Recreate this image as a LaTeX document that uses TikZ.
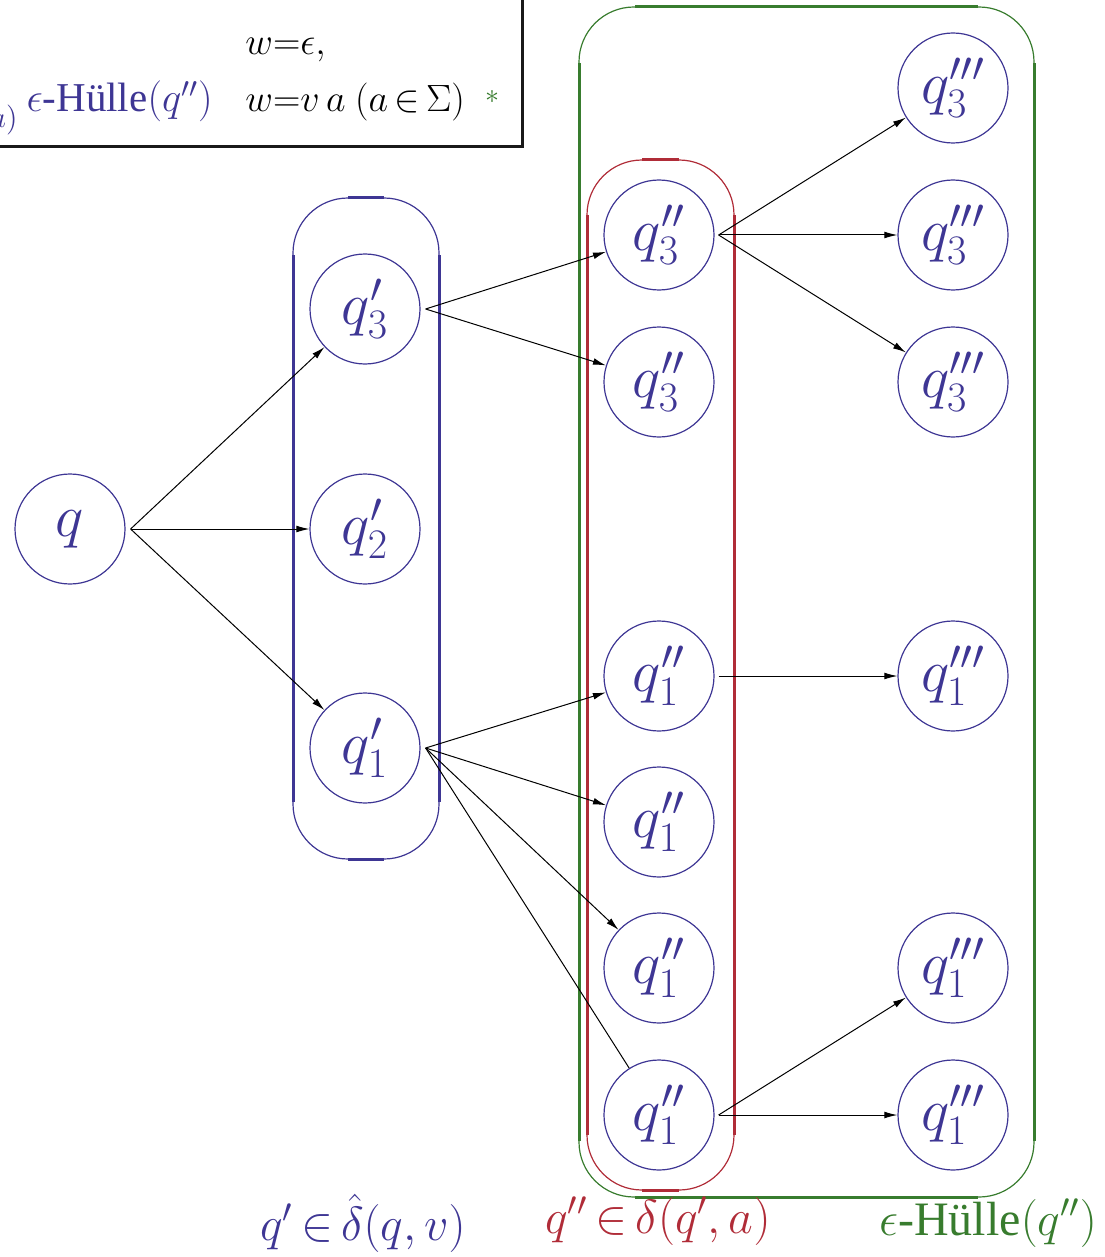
\RequirePackage{fix-cm}
\documentclass[tikz,border=0pt]{standalone}
\usepackage{fontspec}
\setmainfont{Liberation Serif}
\usepackage{amsmath}
\usetikzlibrary{arrows.meta}
\definecolor{stateblue}{RGB}{62,54,148}
\definecolor{deltared}{RGB}{176,44,56}
\definecolor{hullgreen}{RGB}{56,124,46}

\begin{document}
\begin{tikzpicture}[
    x=0.5pt, y=-0.5pt,
    state/.style={
        circle,
        draw=stateblue,
        line width=0.6pt,
        text=stateblue,
        minimum size=55pt,
        inner sep=0pt,
        font=\fontsize{30}{36}\selectfont
    },
    trans/.style={draw=black, line width=0.5pt, -{Latex[length=6.5pt,width=3.4pt]}},
    arcline/.style={line width=0.6pt, rounded corners=27.5pt},
    edgeline/.style={line width=1.5pt},
    boxtext/.style={font=\fontsize{19}{23}\selectfont, inner sep=0pt},
    setlabel/.style={anchor=base, inner sep=0pt, font=\fontsize{24}{28}\selectfont}
]

\useasboundingbox (0,0) rectangle (1104,1257);
\clip (0,0) rectangle (1104,1257);

% Definition box (cut at the page edge)
\draw[line width=1.5pt, black!90] (-40,-40) rectangle (522,147);
\node[boxtext, anchor=base west] (caseeps) at (245,55) {$w{=}\epsilon,$};
\node[boxtext, anchor=base east, text=stateblue, font=\fontsize{20.5}{24}\selectfont] (hullq) at (213,112) {$\epsilon$-Hülle$(q'')$};
\node[boxtext, anchor=base west] (caseva) at (245,112) {$w{=}v\,a\ (a\,{\in}\,\Sigma)$};
\node[text=hullgreen, inner sep=0pt, font=\fontsize{14}{16}\selectfont] (star) at (492,97) {$*$};
\node[anchor=base east, text=stateblue, inner sep=0pt, font=\fontsize{15}{17}\selectfont] (unionsub) at (18,128) {$(q',a)$};

% Set boxes
\draw[stateblue, arcline] (293,198) rectangle (439,859);
\draw[stateblue, edgeline] (293,255) -- (293,802) (439,255) -- (439,802)
    (348,198) -- (384,198) (348,859) -- (384,859);

\draw[hullgreen, arcline] (579,7) rectangle (1034,1197);
\draw[hullgreen, edgeline] (579,63) -- (579,1141) (1034,63) -- (1034,1141)
    (635,7) -- (978,7) (635,1197) -- (978,1197);

\draw[deltared, arcline] (587,160) rectangle (734,1190);
\draw[deltared, edgeline] (587,215) -- (587,1135) (734,215) -- (734,1135)
    (642,160) -- (679,160) (642,1190) -- (679,1190);

% States
\node[state] (q) at (70,529) {$q$};

\node[state] (q3a) at (365,309) {$q'_3$};
\node[state] (q2a) at (365,529) {$q'_2$};
\node[state] (q1a) at (365,748) {$q'_1$};

\node[state] (q3b1) at (659,235) {$q''_3$};
\node[state] (q3b2) at (659,382) {$q''_3$};
\node[state] (q1b1) at (659,676) {$q''_1$};
\node[state] (q1b2) at (659,822) {$q''_1$};
\node[state] (q1b3) at (659,968) {$q''_1$};
\node[state] (q1b4) at (659,1115) {$q''_1$};

\node[state] (q3c1) at (953,88) {$q'''_3$};
\node[state] (q3c2) at (953,235) {$q'''_3$};
\node[state] (q3c3) at (953,382) {$q'''_3$};
\node[state] (q1c1) at (953,676) {$q'''_1$};
\node[state] (q1c2) at (953,968) {$q'''_1$};
\node[state] (q1c3) at (953,1115) {$q'''_1$};

% Transitions (each fan leaves from just right of the east point)
\draw[trans] ([xshift=2.5pt]q.east) -- (q3a);
\draw[trans] ([xshift=2.5pt]q.east) -- (q2a);
\draw[trans] ([xshift=2.5pt]q.east) -- (q1a);

\draw[trans] ([xshift=2.5pt]q3a.east) -- (q3b1);
\draw[trans] ([xshift=2.5pt]q3a.east) -- (q3b2);
\draw[trans] ([xshift=2.5pt]q1a.east) -- (q1b1);
\draw[trans] ([xshift=2.5pt]q1a.east) -- (q1b2);
\draw[trans] ([xshift=2.5pt]q1a.east) -- (q1b3);
\draw[trans, -] ([xshift=2.5pt]q1a.east) -- (q1b4);

\draw[trans] ([xshift=2pt]q3b1.east) -- (q3c1);
\draw[trans] ([xshift=2pt]q3b1.east) -- (q3c2);
\draw[trans] ([xshift=2pt]q3b1.east) -- (q3c3);
\draw[trans] ([xshift=2pt]q1b1.east) -- (q1c1);
\draw[trans] ([xshift=2pt]q1b4.east) -- (q1c2);
\draw[trans] ([xshift=2pt]q1b4.east) -- (q1c3);

% Set labels
\node[setlabel, text=stateblue] (labv) at (363,1240) {$q'\,{\in}\,\hat{\delta}(q,v)$};
\node[setlabel, text=deltared] (laba) at (658,1233) {$q''\,{\in}\,\delta(q',a)$};
\node[setlabel, text=hullgreen] (labhull) at (988,1235) {$\epsilon$-Hülle$(q'')$};

\end{tikzpicture}
\end{document}
